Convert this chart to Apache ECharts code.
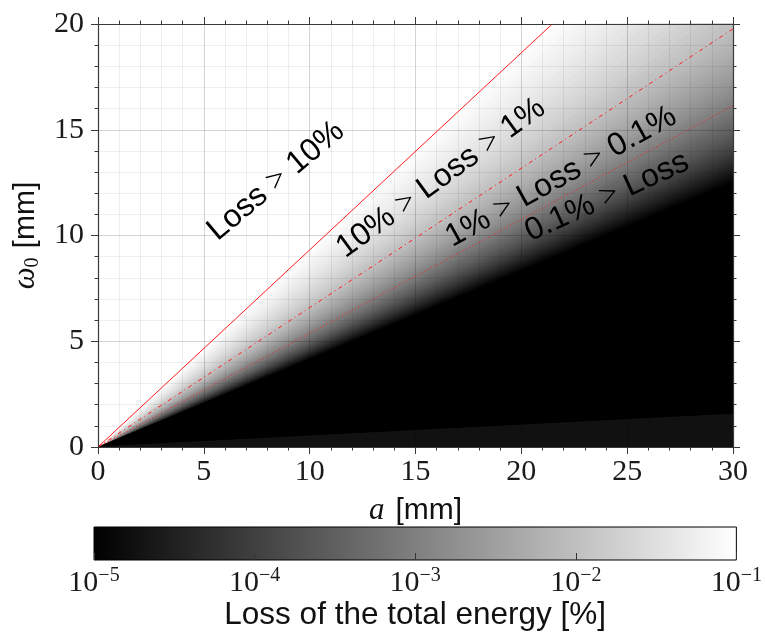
<!DOCTYPE html>
<html>
<head>
<meta charset="utf-8">
<script src="https://cdn.jsdelivr.net/npm/echarts/dist/echarts.min.js"></script>
<style>
html,body{margin:0;padding:0;background:#fff;}
#chart{width:765px;height:633px;}
</style>
</head>
<body>
<div id="chart"></div>
<script>
// ---- data ----
// axis ranges (mm)
const aRange = [0, 30];
const omegaRange = [0, 20];
const axisInterval = 5;
// apex of the wedge-shaped field
const apex = [0, 0];
// log10(loss) read along the right edge (a = 30 mm) as a function of omega0
const rightEdgeOmega = [12.4,12.5,12.6,12.7,12.8,12.9,13.0,13.1,13.2,13.3,13.4,13.5,13.6,13.7,13.8,13.9,14.0,14.1,14.2,14.3,14.4,14.5,14.6,14.7,14.8,14.9,15.0,15.2,15.4,15.6,15.8,16.0,16.2,16.4,16.6,16.8,17.0,17.2,17.4,17.6,17.8,18.0,18.2,18.4,18.6,18.8,19.0,19.2,19.4,19.6,19.8,20.0];
const rightEdgeLogLoss = [-5.08,-5.00,-4.92,-4.85,-4.77,-4.70,-4.63,-4.56,-4.49,-4.42,-4.35,-4.29,-4.23,-4.17,-4.11,-4.05,-3.99,-3.93,-3.88,-3.82,-3.77,-3.72,-3.67,-3.62,-3.57,-3.52,-3.47,-3.38,-3.30,-3.21,-3.13,-3.05,-2.98,-2.91,-2.84,-2.77,-2.71,-2.64,-2.58,-2.52,-2.47,-2.41,-2.36,-2.31,-2.26,-2.21,-2.17,-2.12,-2.08,-2.04,-1.99,-1.95];
// log10(loss) read along the top edge (omega0 = 20 mm) as a function of a
const topEdgeA = [29.5,29.0,28.5,28.0,27.5,27.0,26.5,26.0,25.5,25.0,24.5,24.0,23.5,23.0,22.5,22.0,21.5,21.4];
const topEdgeLogLoss = [-1.89,-1.83,-1.76,-1.70,-1.64,-1.58,-1.53,-1.47,-1.41,-1.36,-1.30,-1.25,-1.20,-1.15,-1.10,-1.05,-1.00,-0.99];
// fully dark region (loss below 1e-5) and the underflow wedge near the a axis
const darkRegion = [[0,0],[30,1.55],[30,12.4]];
const underflowRegion = [[0,0],[30,0],[30,1.55]];
// contour lines (end points on the plot border)
const contourNames = ['10%','1%','0.1%'];
const contourEnds = [[21.46,20],[30,19.77],[30,16.14]];
// colour bar
const colorbarExponents = [-5,-4,-3,-2,-1];
const grayRamp = ['#000000','#ffffff'];
// region annotations
const regionLabels = [
  {parts:['Loss','>','10%'], x:276, y:181, angle:40},
  {parts:['10%','>','Loss','>','1%'], x:441, y:178, angle:36},
  {parts:['1%','>','Loss','>','0.1%'], x:561, y:177, angle:29},
  {parts:['0.1%','>','Loss'], x:607, y:197, angle:24.5}
];

// ---- build series data ----
const edgePts = [];
rightEdgeOmega.forEach((w,i)=>edgePts.push([30, w, rightEdgeLogLoss[i]]));
topEdgeA.forEach((a,i)=>edgePts.push([a, 20, topEdgeLogLoss[i]]));
const wedgeData = [];
for (let i = 0; i < edgePts.length - 1; i++) {
  const p = edgePts[i], q = edgePts[i+1];
  wedgeData.push([p[0], p[1], q[0], q[1], p[2]]);
}

const serifFont = 'Liberation Serif';
const sansFont = 'Liberation Sans';
const axisColor = '#3a3a3a';

function polyRenderer(points, color) {
  return function(params, api) {
    if (params.dataIndex !== 0) return;
    return {
      type: 'polygon',
      shape: {points: points.map(p => api.coord(p))},
      style: {fill: color, stroke: color, lineWidth: 1}
    };
  };
}

const lineTypes = ['solid', [4,3.5,1,3.5], [1,2.6]];

const series = [
  {
    type: 'custom', name: 'field', xAxisIndex: 0, yAxisIndex: 0, z: 1,
    data: wedgeData,
    encode: {x:[0,2], y:[1,3]},
    renderItem: function(params, api) {
      const o = api.coord(apex);
      const p1 = api.coord([api.value(0), api.value(1)]);
      const p2 = api.coord([api.value(2), api.value(3)]);
      const c = api.visual('color');
      return {type:'polygon', shape:{points:[o,p1,p2]}, style:{fill:c, stroke:c, lineWidth:1.6, lineJoin:'bevel'}};
    },
    silent: true
  },
  {
    type: 'custom', name: 'dark', xAxisIndex: 0, yAxisIndex: 0, z: 1,
    data: [[0,0]], renderItem: polyRenderer(darkRegion, '#000000'), silent: true
  },
  {
    type: 'custom', name: 'underflow', xAxisIndex: 0, yAxisIndex: 0, z: 1,
    data: [[0,0]], renderItem: polyRenderer(underflowRegion, '#111111'), silent: true
  }
];
contourEnds.forEach((end, i) => {
  series.push({
    type: 'line', name: contourNames[i], xAxisIndex: 0, yAxisIndex: 0, z: 8,
    data: [apex, end], showSymbol: false, symbol: 'none', silent: true,
    lineStyle: {color: '#ff1a1a', width: 1, type: lineTypes[i]}
  });
});
series.push({
  type: 'custom', name: 'colorbar', xAxisIndex: 3, yAxisIndex: 3, z: 2,
  data: [[colorbarExponents[0], colorbarExponents[colorbarExponents.length-1]]],
  renderItem: function(params, api) {
    const p0 = api.coord([api.value(0), 1]);
    const p1 = api.coord([api.value(1), 0]);
    return {
      type: 'rect',
      shape: {x: p0[0], y: p0[1], width: p1[0]-p0[0], height: p1[1]-p0[1]},
      style: {
        fill: new echarts.graphic.LinearGradient(0,0,1,0,[{offset:0,color:grayRamp[0]},{offset:1,color:grayRamp[1]}]),
        stroke: '#000', lineWidth: 1
      }
    };
  },
  silent: true
});

function frameAxis(position, showLabels, extra) {
  return Object.assign({
    type: 'value', gridIndex: 0, position: position, z: 10,
    interval: axisInterval,
    axisLine: {show: true, onZero: false, lineStyle: {color: axisColor, width: 1.2}},
    axisTick: {show: true, inside: false, length: 7, lineStyle: {color: axisColor, width: 1}},
    minorTick: {show: true, splitNumber: 5, length: 3.5, lineStyle: {color: axisColor, width: 1}},
    axisLabel: {show: showLabels, fontFamily: serifFont, fontSize: 30, color: '#1a1a1a'},
    splitLine: {show: false},
    minorSplitLine: {show: false}
  }, extra);
}
function gridAxis(position, extra) {
  return Object.assign({
    type: 'value', gridIndex: 0, position: position, z: 5,
    interval: axisInterval,
    axisLine: {show: false}, axisTick: {show: false}, axisLabel: {show: false},
    minorTick: {show: false, splitNumber: 5},
    splitLine: {show: true, lineStyle: {color: 'rgba(0,0,0,0.17)', width: 1}},
    minorSplitLine: {show: true, lineStyle: {color: 'rgba(0,0,0,0.065)', width: 1}}
  }, extra);
}

const xAxes = [
  frameAxis('bottom', true, {min: aRange[0], max: aRange[1],
    axisLabel: {show: true, fontFamily: serifFont, fontSize: 30, color: '#1a1a1a', margin: 10},
    name: '{i|a}{s|[mm]}', nameLocation: 'middle', nameGap: 48,
    nameTextStyle: {rich: {
      i: {fontFamily: serifFont, fontStyle: 'italic', fontSize: 31, color: '#111'},
      s: {fontFamily: sansFont, fontSize: 30, color: '#111', padding: [0,0,0,11]}
    }}}),
  frameAxis('top', false, {min: aRange[0], max: aRange[1]}),
  gridAxis('bottom', {min: aRange[0], max: aRange[1]}),
  {
    type: 'value', gridIndex: 1, min: colorbarExponents[0], max: colorbarExponents[colorbarExponents.length-1],
    interval: 1, position: 'bottom', z: 10,
    axisLine: {show: false},
    axisTick: {show: true, inside: true, length: 7, lineStyle: {color: '#333', width: 1}},
    splitLine: {show: false},
    axisLabel: {
      margin: 6,
      formatter: function(v) { return '{b|10}{s|\u2212' + Math.abs(v) + '}'; },
      rich: {
        b: {fontFamily: serifFont, fontSize: 30, color: '#1a1a1a', lineHeight: 32, verticalAlign: 'bottom'},
        s: {fontFamily: serifFont, fontSize: 20, color: '#1a1a1a', lineHeight: 20, verticalAlign: 'top'}
      }
    },
    name: 'Loss of the total energy [%]', nameLocation: 'middle', nameGap: 36,
    nameTextStyle: {fontFamily: sansFont, fontSize: 31.5, color: '#111'}
  }
];
const yAxes = [
  frameAxis('left', true, {min: omegaRange[0], max: omegaRange[1],
    axisLabel: {show: true, fontFamily: serifFont, fontSize: 30, color: '#1a1a1a', margin: 14},
    name: '{i|\u03c9}{sub|0}{s|[mm]}', nameLocation: 'middle', nameGap: 52,
    nameTextStyle: {rich: {
      i: {fontFamily: serifFont, fontStyle: 'italic', fontSize: 31, color: '#111', lineHeight: 34, verticalAlign: 'middle'},
      sub: {fontFamily: serifFont, fontSize: 20, color: '#111', lineHeight: 34, verticalAlign: 'bottom'},
      s: {fontFamily: sansFont, fontSize: 30, color: '#111', lineHeight: 34, verticalAlign: 'middle', padding: [0,0,0,9]}
    }}}),
  frameAxis('right', false, {min: omegaRange[0], max: omegaRange[1]}),
  gridAxis('left', {min: omegaRange[0], max: omegaRange[1]}),
  {type: 'value', gridIndex: 1, min: 0, max: 1, show: false}
];

const graphics = regionLabels.map(l => {
  const text = l.parts.map(p => p === '>' ? '{m|>}' : '{t|' + p + '}').join(' ');
  return {
    type: 'text', x: l.x, y: l.y, rotation: l.angle * Math.PI / 180, z: 20,
    style: {
      text: text, align: 'center', verticalAlign: 'middle',
      fontFamily: sansFont, fontSize: 32, fill: '#000',
      rich: {
        t: {fontFamily: sansFont, fontSize: 32, fill: '#000', color: '#000'},
        m: {fontFamily: serifFont, fontSize: 32, fill: '#000', color: '#000'}
      }
    }
  };
});

const chart = echarts.init(document.getElementById('chart'), null, {renderer: 'canvas'});
chart.setOption({
  animation: false,
  backgroundColor: '#ffffff',
  grid: [
    {left: 98, right: 32, top: 24, bottom: 186, containLabel: false},
    {left: 94, right: 28, top: 527, height: 33, containLabel: false}
  ],
  xAxis: xAxes,
  yAxis: yAxes,
  visualMap: {
    type: 'continuous', show: false, seriesIndex: 0, dimension: 4,
    min: colorbarExponents[0], max: colorbarExponents[colorbarExponents.length-1],
    inRange: {color: grayRamp}
  },
  series: series,
  graphic: graphics
});
</script>
</body>
</html>
